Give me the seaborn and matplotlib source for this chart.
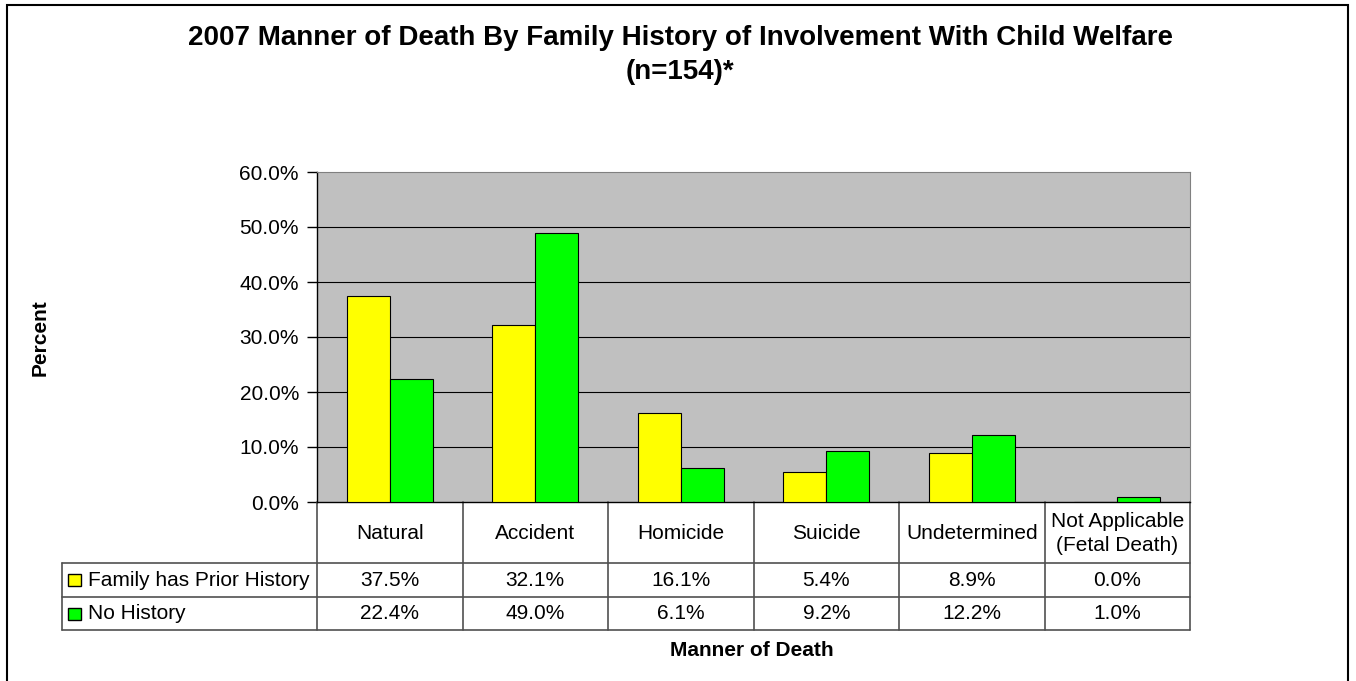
import numpy as np
import pandas as pd
import matplotlib
matplotlib.use("Agg")
import matplotlib.pyplot as plt
import seaborn as sns
from matplotlib.patches import Rectangle
from matplotlib.lines import Line2D

categories = ["Natural", "Accident", "Homicide", "Suicide", "Undetermined",
              "Not Applicable\n(Fetal Death)"]
prior_history = [37.5, 32.1, 16.1, 5.4, 8.9, 0.0]
no_history = [22.4, 49.0, 6.1, 9.2, 12.2, 1.0]
series = ["Family has Prior History", "No History"]
colors = ["#FFFF00", "#00FF00"]
yticks = [0, 10, 20, 30, 40, 50, 60]

df = pd.DataFrame({
    "cat": categories * 2,
    "pct": prior_history + no_history,
    "series": [series[0]] * 6 + [series[1]] * 6,
})

sns.set_style("white")
plt.rcParams["font.family"] = ["Liberation Sans", "DejaVu Sans"]
plt.rcParams["text.color"] = "black"
plt.rcParams["ytick.color"] = "black"
plt.rcParams["ytick.labelcolor"] = "black"

W, H = 1356, 681
fig = plt.figure(figsize=(W / 100, H / 100), dpi=100)
# plot area in pixels
L, T, R, B = 317, 172, 1190, 502
ax = fig.add_axes([L / W, 1 - B / H, (R - L) / W, (B - T) / H])
ax.set_facecolor("#C0C0C0")

sns.barplot(data=df, x="cat", y="pct", hue="series", palette=colors, saturation=1,
            width=0.59, edgecolor="black", linewidth=0.8, ax=ax,
            legend=False, zorder=3)

fs = 15
ax.set_xlim(-0.5, 5.5)
ax.set_ylim(0, 60)
ax.set_yticks(yticks)
ax.set_yticklabels([f"{v:.1f}%" for v in yticks], fontsize=fs)
ax.set_xticks([])
ax.set_xlabel("")
ax.set_ylabel("")
for v in yticks[1:-1]:
    ax.axhline(v, color="black", lw=0.8, zorder=1)
ax.tick_params(axis="y", direction="out", length=7, width=1, color="black", pad=6,
               left=True)
for s in ["top", "right"]:
    ax.spines[s].set_color("#808080")
    ax.spines[s].set_linewidth(0.8)
for s in ["left", "bottom"]:
    ax.spines[s].set_color("black")
    ax.spines[s].set_linewidth(1)


def ay(py):
    return (B - py) / (B - T)


def axx(px):
    return (px - L) / (R - L)


# data table under the plot
tbl_col = "#505050"
hdr_bot, r1_bot, r2_bot = 563, 597, 630
leg_left = 62
kw = dict(transform=ax.transAxes, clip_on=False, color=tbl_col, lw=1.2)
for py in [hdr_bot, r1_bot, r2_bot]:
    ax.add_line(Line2D([axx(leg_left), 1], [ay(py), ay(py)], **kw))
ax.add_line(Line2D([axx(leg_left)] * 2, [ay(hdr_bot), ay(r2_bot)], **kw))
tr = ax.get_xaxis_transform()
for i in range(len(categories) + 1):
    ax.add_line(Line2D([i - 0.5] * 2, [0, ay(r2_bot)], transform=tr,
                       clip_on=False, color=tbl_col, lw=1.2))

for i, c in enumerate(categories):
    ax.text(i, ay((B + hdr_bot) / 2 + 1), c, transform=tr, ha="center", va="center",
            fontsize=fs, linespacing=1.3)
    ax.text(i, ay((hdr_bot + r1_bot) / 2), f"{prior_history[i]:.1f}%", transform=tr,
            ha="center", va="center", fontsize=fs)
    ax.text(i, ay((r1_bot + r2_bot) / 2), f"{no_history[i]:.1f}%", transform=tr,
            ha="center", va="center", fontsize=fs)

for j, (name, col) in enumerate(zip(series, colors)):
    top, bot = [(hdr_bot, r1_bot), (r1_bot, r2_bot)][j]
    yc = (top + bot) / 2
    ax.add_patch(Rectangle((axx(68), ay(yc + 6)), axx(81) - axx(68), ay(yc - 6) - ay(yc + 6),
                           transform=ax.transAxes, clip_on=False, facecolor=col,
                           edgecolor="black", lw=1))
    ax.text(axx(88), ay(yc), name, transform=ax.transAxes, ha="left", va="center",
            fontsize=fs)

# titles and axis labels
fig.text(680 / W, 1 - 38 / H, "2007 Manner of Death By Family History of Involvement With Child Welfare",
         ha="center", va="center", fontsize=20, fontweight="bold")
fig.text(680 / W, 1 - 72 / H, "(n=154)*", ha="center", va="center", fontsize=20,
         fontweight="bold")
fig.text(40 / W, 1 - 338 / H, "Percent", rotation=90, ha="center", va="center",
         fontsize=15, fontweight="bold")
fig.text(752 / W, 1 - 651 / H, "Manner of Death", ha="center", va="center",
         fontsize=15, fontweight="bold")

# outer chart border
fig.add_artist(Rectangle((7 / W, -0.05), (1348 - 7) / W, 1 - 5 / H + 0.05,
                         transform=fig.transFigure, fill=False, edgecolor="black", lw=1.5))

fig.savefig("out.png", dpi=100)
